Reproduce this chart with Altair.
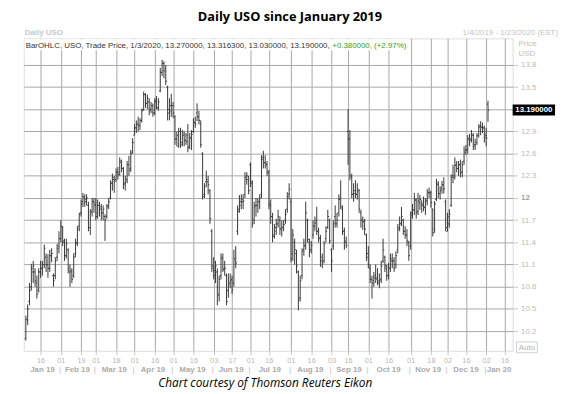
import json
import altair as alt
import pandas as pd

# ---------------- data ----------------
holidays = ["2019-01-21", "2019-02-18", "2019-04-19", "2019-05-27", "2019-07-04",
            "2019-09-02", "2019-11-28", "2019-12-25", "2020-01-01", "2020-01-20"]
all_days = pd.bdate_range("2019-01-04", "2020-01-23", freq="C", holidays=holidays)

opens = [
    # Jan
    10.10, 10.35, 10.60, 10.80, 11.00, 11.00, 10.85, 10.75, 11.00, 11.05, 11.10, 11.20, 11.10, 11.05, 11.22, 10.95, 10.95, 11.20, 11.35,
    # Feb
    11.45, 11.60, 11.40, 11.22, 11.30, 11.00, 11.00, 10.95, 11.25, 11.40, 11.62, 11.80, 11.95, 12.00, 11.98, 11.90, 11.60, 11.82, 11.95,
    # Mar
    11.90, 11.80, 11.90, 11.85, 11.80, 11.75, 11.75, 11.90, 12.00, 12.20, 12.25, 12.25, 12.35, 12.35, 12.48, 12.40, 12.20, 12.25, 12.45, 12.40, 12.62,
    # Apr
    12.85, 12.95, 13.00, 12.98, 13.05, 13.20, 13.40, 13.28, 13.30, 13.20, 13.25, 13.15, 13.32, 13.22, 13.45, 13.70, 13.82, 13.75, 13.50, 13.20, 13.25,
    # May
    13.25, 13.10, 12.80, 12.70, 12.90, 12.75, 12.85, 12.78, 12.85, 12.70, 12.80, 12.90, 13.02, 13.15, 13.10, 13.00, 12.60, 12.05, 12.22, 12.22, 12.10, 11.55,
    # Jun
    11.05, 10.95, 11.00, 10.70, 10.95, 11.20, 11.05, 10.95, 10.75, 10.85, 10.90, 10.85, 11.15, 11.55, 11.85, 11.95, 11.95, 12.05, 12.25, 12.25,
    # Jul
    12.45, 12.20, 11.70, 11.90, 11.90, 11.95, 12.05, 12.55, 12.48, 12.45, 12.35, 11.90, 11.75, 11.50, 11.60, 11.65, 11.70, 11.58, 11.60, 11.70, 11.85, 12.05,
    # Aug
    11.95, 11.25, 11.40, 11.25, 11.00, 10.65, 10.95, 11.30, 11.35, 11.70, 11.40, 11.30, 11.50, 11.62, 11.70, 11.55, 11.45, 11.15, 11.15, 11.45, 11.60, 11.70,
    # Sep
    11.30, 11.35, 11.75, 11.65, 11.80, 12.00, 11.85, 11.55, 11.40, 12.90, 12.80, 12.28, 12.05, 12.10, 12.05, 12.10, 11.80, 11.70, 11.68, 11.50,
    # Oct
    11.25, 11.05, 10.90, 10.88, 10.95, 10.90, 10.85, 10.90, 11.15, 11.20, 11.05, 10.95, 11.05, 11.15, 11.15, 11.10, 11.30, 11.60, 11.65, 11.70, 11.55, 11.50, 11.40,
    # Nov
    11.35, 11.80, 11.84, 11.97, 11.82, 11.94, 11.92, 11.92, 11.87, 11.97, 12.07, 12.07, 11.85, 11.58, 11.98, 12.18, 12.06, 12.13, 12.18, 11.95,
    # Dec
    11.55, 11.65, 11.90, 12.30, 12.30, 12.45, 12.40, 12.45, 12.35, 12.50, 12.65, 12.65, 12.80, 12.80, 12.85, 12.72, 12.75, 12.85, 12.98, 12.96, 12.95,
    # Jan 2020
    12.85, 13.27,
]
highs = [
    10.41, 10.56, 10.85, 11.11, 11.15, 11.05, 10.95, 11.05, 11.15, 11.15, 11.37, 11.25, 11.24, 11.30, 11.32, 10.98, 11.20, 11.38, 11.55,
    11.70, 11.62, 11.45, 11.45, 11.32, 11.10, 11.05, 11.25, 11.45, 11.62, 11.80, 11.98, 12.07, 12.05, 12.05, 11.95, 11.85, 12.00, 12.00,
    12.00, 11.98, 11.95, 11.92, 11.90, 11.78, 11.92, 12.00, 12.24, 12.33, 12.30, 12.40, 12.42, 12.55, 12.52, 12.42, 12.30, 12.50, 12.57, 12.65, 12.81,
    13.00, 13.05, 13.10, 13.08, 13.21, 13.44, 13.42, 13.40, 13.35, 13.30, 13.28, 13.35, 13.38, 13.35, 13.76, 13.87, 13.85, 13.80, 13.52, 13.35, 13.41,
    13.30, 13.12, 12.90, 12.95, 12.95, 12.92, 12.90, 12.88, 13.00, 12.88, 12.92, 13.08, 13.10, 13.28, 13.18, 13.05, 12.62, 12.20, 12.37, 12.30, 12.12, 11.58,
    11.20, 11.15, 11.05, 10.95, 11.25, 11.25, 11.15, 10.98, 10.98, 10.98, 10.95, 11.30, 11.35, 11.90, 12.04, 12.05, 12.05, 12.35, 12.35, 12.30,
    12.48, 12.24, 11.95, 12.00, 12.00, 12.05, 12.58, 12.64, 12.58, 12.50, 12.38, 11.98, 11.80, 11.65, 11.72, 11.84, 11.75, 11.70, 11.70, 11.85, 12.08, 12.20,
    12.00, 11.58, 11.45, 11.30, 11.02, 10.95, 11.32, 11.45, 11.95, 11.72, 11.45, 11.42, 11.70, 11.75, 11.88, 11.60, 11.50, 11.25, 11.42, 11.62, 11.84, 11.72,
    11.32, 11.70, 11.90, 11.80, 12.05, 12.24, 11.90, 11.60, 11.48, 13.20, 12.92, 12.33, 12.20, 12.24, 12.20, 12.12, 11.84, 11.75, 11.72, 11.52,
    11.35, 11.10, 10.95, 11.00, 11.10, 11.05, 10.98, 11.15, 11.45, 11.22, 11.10, 11.12, 11.25, 11.25, 11.20, 11.28, 11.65, 11.75, 11.88, 11.72, 11.62, 11.58, 11.42,
    11.82, 11.92, 12.07, 12.00, 12.07, 12.04, 11.97, 12.02, 12.00, 12.12, 12.14, 12.10, 11.86, 11.96, 12.26, 12.23, 12.16, 12.23, 12.28, 11.98,
    11.80, 11.85, 12.32, 12.45, 12.55, 12.50, 12.50, 12.52, 12.50, 12.70, 12.72, 12.85, 12.87, 12.92, 12.88, 12.80, 12.88, 13.00, 13.04, 13.02, 12.98,
    12.95, 13.3163,
]
lows = [
    10.07, 10.28, 10.55, 10.75, 10.85, 10.80, 10.64, 10.72, 10.92, 10.95, 11.05, 11.00, 10.92, 11.00, 11.13, 10.80, 10.90, 11.15, 11.25,
    11.40, 11.35, 11.15, 11.18, 10.98, 10.80, 10.85, 10.92, 11.20, 11.35, 11.55, 11.75, 11.88, 11.88, 11.90, 11.55, 11.50, 11.75, 11.80,
    11.70, 11.72, 11.75, 11.70, 11.70, 11.42, 11.72, 11.85, 11.98, 12.10, 12.07, 12.22, 12.25, 12.30, 12.35, 12.12, 12.10, 12.20, 12.30, 12.35, 12.60,
    12.85, 12.88, 12.90, 12.92, 13.02, 13.18, 13.22, 13.20, 13.12, 13.15, 13.10, 13.12, 13.20, 13.18, 13.43, 13.65, 13.62, 13.53, 13.05, 13.05, 13.10,
    13.08, 12.72, 12.70, 12.68, 12.68, 12.70, 12.70, 12.72, 12.62, 12.66, 12.65, 12.88, 12.95, 13.04, 13.00, 12.68, 11.98, 12.00, 12.15, 12.05, 11.65, 11.00,
    10.90, 10.85, 10.55, 10.60, 10.90, 11.00, 10.95, 10.55, 10.65, 10.78, 10.70, 10.80, 11.05, 11.50, 11.80, 11.85, 11.85, 12.00, 12.18, 12.05,
    12.15, 11.60, 11.65, 11.75, 11.80, 11.85, 12.00, 12.40, 12.40, 12.30, 11.85, 11.65, 11.40, 11.45, 11.50, 11.60, 11.50, 11.48, 11.55, 11.65, 11.80, 11.98,
    11.13, 11.15, 11.10, 10.98, 10.48, 10.60, 10.90, 11.22, 11.30, 11.40, 11.20, 11.25, 11.45, 11.55, 11.50, 11.40, 11.07, 11.05, 11.12, 11.40, 11.58, 11.38,
    11.00, 11.30, 11.60, 11.60, 11.75, 11.85, 11.50, 11.30, 11.32, 12.45, 12.24, 12.00, 11.95, 12.00, 11.98, 11.80, 11.60, 11.57, 11.50, 11.15,
    11.05, 10.85, 10.64, 10.80, 10.85, 10.82, 10.78, 10.85, 11.12, 11.00, 10.88, 10.90, 11.00, 11.05, 11.00, 11.05, 11.25, 11.55, 11.62, 11.50, 11.45, 11.35, 11.15,
    11.30, 11.72, 11.77, 11.72, 11.77, 11.84, 11.80, 11.82, 11.77, 11.90, 12.00, 11.87, 11.48, 11.53, 11.96, 12.00, 11.98, 12.06, 12.06, 11.55,
    11.55, 11.60, 11.88, 12.20, 12.25, 12.35, 12.30, 12.28, 12.28, 12.45, 12.58, 12.60, 12.70, 12.75, 12.65, 12.65, 12.72, 12.82, 12.85, 12.88, 12.75,
    12.70, 13.03,
]
closes = [
    10.36, 10.50, 10.75, 11.05, 11.08, 10.88, 10.70, 11.00, 11.05, 11.10, 11.32, 11.10, 11.05, 11.22, 11.25, 10.88, 11.15, 11.32, 11.45,
    11.62, 11.42, 11.22, 11.38, 11.05, 11.02, 10.90, 11.20, 11.38, 11.58, 11.78, 11.92, 12.02, 11.95, 12.00, 11.60, 11.80, 11.95, 11.92,
    11.75, 11.90, 11.88, 11.80, 11.85, 11.70, 11.88, 11.95, 12.20, 12.28, 12.22, 12.35, 12.32, 12.50, 12.40, 12.18, 12.22, 12.45, 12.38, 12.60, 12.75,
    12.95, 13.00, 12.98, 13.05, 13.18, 13.40, 13.28, 13.35, 13.18, 13.25, 13.15, 13.30, 13.22, 13.30, 13.70, 13.82, 13.72, 13.58, 13.15, 13.18, 13.25,
    13.15, 12.80, 12.85, 12.90, 12.72, 12.88, 12.78, 12.76, 12.68, 12.82, 12.86, 13.02, 13.00, 13.10, 13.05, 12.72, 12.02, 12.15, 12.25, 12.18, 11.72, 11.08,
    11.02, 11.08, 10.68, 10.90, 11.18, 11.03, 11.05, 10.60, 10.82, 10.88, 10.76, 11.18, 11.12, 11.82, 11.90, 11.98, 11.96, 12.28, 12.30, 12.10,
    12.22, 11.65, 11.88, 11.90, 11.95, 12.00, 12.52, 12.48, 12.47, 12.35, 11.92, 11.75, 11.48, 11.55, 11.65, 11.75, 11.58, 11.60, 11.64, 11.78, 12.02, 12.12,
    11.18, 11.50, 11.30, 11.08, 10.62, 10.88, 11.28, 11.36, 11.80, 11.44, 11.28, 11.36, 11.62, 11.66, 11.55, 11.46, 11.20, 11.12, 11.38, 11.55, 11.75, 11.42,
    11.15, 11.65, 11.66, 11.70, 11.98, 11.88, 11.55, 11.42, 11.36, 12.80, 12.30, 12.05, 12.06, 12.05, 12.12, 11.85, 11.70, 11.68, 11.58, 11.20,
    11.10, 10.90, 10.85, 10.92, 10.92, 10.88, 10.88, 11.08, 11.30, 11.08, 10.95, 11.05, 11.18, 11.15, 11.05, 11.22, 11.58, 11.66, 11.75, 11.55, 11.50, 11.42, 11.22,
    11.77, 11.84, 11.98, 11.80, 11.96, 11.98, 11.90, 11.88, 11.95, 12.08, 12.07, 11.94, 11.53, 11.92, 12.20, 12.06, 12.10, 12.18, 12.12, 11.60,
    11.75, 11.78, 12.28, 12.28, 12.44, 12.40, 12.45, 12.35, 12.45, 12.62, 12.65, 12.80, 12.78, 12.85, 12.70, 12.72, 12.84, 12.96, 12.96, 12.95, 12.82,
    12.81, 13.19,
]

tick_dates = ["2019-01-16", "2019-02-01", "2019-02-19", "2019-03-01", "2019-03-18", "2019-04-01",
              "2019-04-16", "2019-05-01", "2019-05-16", "2019-06-03", "2019-06-17", "2019-07-01",
              "2019-07-16", "2019-08-01", "2019-08-16", "2019-09-03", "2019-09-16", "2019-10-01",
              "2019-10-16", "2019-11-01", "2019-11-18", "2019-12-02", "2019-12-16", "2020-01-02",
              "2020-01-16"]
tick_labels = ["16", "01", "19", "01", "18", "01", "16", "01", "16", "03", "17", "01", "16",
               "01", "16", "03", "16", "01", "16", "01", "18", "02", "16", "02", "16"]
month_names = ["Jan 19", "Feb 19", "Mar 19", "Apr 19", "May 19", "Jun 19", "Jul 19",
               "Aug 19", "Sep 19", "Oct 19", "Nov 19", "Dec 19", "Jan 20"]
y_ticks = [10.2, 10.5, 10.8, 11.1, 11.4, 11.7, 12.0, 12.3, 12.6, 12.9, 13.2, 13.5, 13.8]

title_text = "Daily USO since January 2019"
caption_text = "Chart courtesy of Thomson Reuters Eikon"
info_text = "BarOHLC, USO, Trade Price,  1/3/2020,  13.270000,  13.316300,  13.030000,  13.190000, "
change_text = "+0.380000,  (+2.97%)"
# ---------------------------------------------------------------

n = len(closes)
df = pd.DataFrame({
    "i": list(range(n)),
    "date": all_days[:n].strftime("%Y-%m-%d"),
    "open": opens, "high": highs, "low": lows, "close": closes,
})

day_pos = {d.strftime("%Y-%m-%d"): k for k, d in enumerate(all_days)}
tick_idx = [day_pos[d] for d in tick_dates]

months = pd.Series(range(len(all_days)), index=all_days)
mgroups = months.groupby([all_days.year, all_days.month])
month_df = pd.DataFrame({
    "pos": [float(g.mean()) for _, g in mgroups],
    "name": month_names,
})
sep_df = pd.DataFrame({"pos": [float(g.min()) - 0.5 for _, g in mgroups][1:], "t": "|"})

W, H = 496, 317
xs = alt.Scale(domain=[-1.124, 264.4], nice=False, zero=False)
ys = alt.Scale(domain=[9.933, 14.16], nice=False, zero=False)
LF = "Liberation Sans"
last_value = closes[-1]

x_axis = alt.Axis(values=tick_idx,
                  labelExpr=f"{json.dumps(tick_labels)}[indexof({json.dumps(tick_idx)}, datum.value)]",
                  grid=True, gridColor="#a8a8a8", gridWidth=1, domain=False,
                  ticks=True, tickSize=4, tickColor="#c8c8c8", labelColor="#b8b8b8",
                  labelFontSize=7.5, labelFont=LF, labelPadding=2, title=None,
                  labelFlush=False, labelOverlap=False)
y_axis = alt.Axis(orient="right", values=y_ticks,
                  labelExpr=f"abs(datum.value - {last_value}) < 0.1 ? '' : format(datum.value, '.1~f')",
                  grid=True, gridColor="#a8a8a8", gridWidth=1, domain=False,
                  ticks=True, tickSize=5, tickColor="#c8c8c8",
                  labelColor={"condition": {"test": "datum.value == 12", "value": "#a0a0a0"}, "value": "#bcbcbc"},
                  labelFontWeight={"condition": {"test": "datum.value == 12", "value": "bold"}, "value": "normal"},
                  labelFontSize=8, labelFont=LF, labelPadding=3, title=None,
                  labelFlush=False, labelOverlap=False)

BAR = "#383838"
base = alt.Chart(df)
hl = base.mark_rule(color=BAR, strokeWidth=1).encode(
    x=alt.X("i:Q", scale=xs, axis=x_axis),
    y=alt.Y("low:Q", scale=ys, axis=y_axis),
    y2="high:Q",
)
open_tick = base.transform_calculate(io="datum.i - 0.65").mark_rule(color=BAR, strokeWidth=1).encode(
    x=alt.X("io:Q", scale=xs, axis=x_axis), x2="i:Q",
    y=alt.Y("open:Q", scale=ys, axis=y_axis),
)
close_tick = base.transform_calculate(ic="datum.i + 0.65").mark_rule(color=BAR, strokeWidth=1).encode(
    x=alt.X("i:Q", scale=xs, axis=x_axis), x2="ic:Q",
    y=alt.Y("close:Q", scale=ys, axis=y_axis),
)

def label(text, x, y, **kw):
    return alt.Chart(pd.DataFrame({"t": [text]})).mark_text(**kw).encode(
        text="t:N", x=alt.value(x), y=alt.value(y))

info_bg = alt.Chart(pd.DataFrame({"t": [0]})).mark_rect(fill="white").encode(
    x=alt.value(1), x2=alt.value(390), y=alt.value(1), y2=alt.value(12))

last = pd.DataFrame({"v": [last_value], "lab": [f"{last_value:.6f}"]})
last_bg = alt.Chart(last).transform_calculate(
    lo="datum.v - 0.075", hi="datum.v + 0.075").mark_rect(fill="black").encode(
    x=alt.value(W), x2=alt.value(W + 43),
    y=alt.Y("lo:Q", scale=ys, axis=y_axis), y2="hi:Q")
last_txt = alt.Chart(last).mark_text(color="white", font=LF, fontSize=8, fontWeight="bold",
                                     align="center", baseline="middle").encode(
    text="lab:N", x=alt.value(W + 21.5), y=alt.Y("v:Q", scale=ys, axis=y_axis))

auto_box = alt.Chart(pd.DataFrame({"t": [0]})).mark_rect(fill="white", stroke="#cfcfcf", strokeWidth=1).encode(
    x=alt.value(W + 4), x2=alt.value(W + 25), y=alt.value(H - 9), y2=alt.value(H + 2))

month_txt = alt.Chart(month_df).mark_text(font=LF, fontSize=8, fontWeight="bold", color="#ababab",
                                          align="center", baseline="alphabetic").encode(
    x=alt.X("pos:Q", scale=xs, axis=x_axis), y=alt.value(H + 21), text="name:N")
sep_txt = alt.Chart(sep_df).mark_text(font=LF, fontSize=8, color="#bcbcbc",
                                      align="center", baseline="alphabetic").encode(
    x=alt.X("pos:Q", scale=xs, axis=x_axis), y=alt.value(H + 21), text="t:N")

layers = [
    hl, open_tick, close_tick,
    info_bg,
    label(info_text, 2, 10, font=LF, fontSize=8, color="#333333", align="left", baseline="alphabetic"),
    label(change_text, 313, 10, font=LF, fontSize=8, color="#2aa02a", align="left", baseline="alphabetic"),
    label("Daily USO", 1, -3, font=LF, fontSize=8, fontWeight="bold", color="#c8c8c8", align="left", baseline="alphabetic"),
    label("1/4/2019 - 1/23/2020 (EST)", 542, -3, font=LF, fontSize=8, color="#c4c4c4", align="right", baseline="alphabetic"),
    label("Price", 502, 8, font=LF, fontSize=8, color="#c0c0c0", align="left", baseline="alphabetic"),
    label("USD", 502, 18, font=LF, fontSize=8, color="#c0c0c0", align="left", baseline="alphabetic"),
    last_bg, last_txt,
    auto_box,
    label("Auto", W + 14.5, H - 0.5, font=LF, fontSize=8, color="#b4b4b4", align="center", baseline="alphabetic"),
    month_txt, sep_txt,
    label(title_text, 270, -18, font="Open Sans", fontSize=13, fontWeight="bold", color="black", align="center", baseline="alphabetic"),
    label(caption_text, 245, 354, font="Open Sans", fontSize=12, fontStyle="italic", color="black", align="center", baseline="alphabetic"),
]

chart = alt.layer(*layers).properties(
    width=W, height=H,
    padding={"left": 16, "top": 28, "right": 47, "bottom": 41},
    autosize=alt.AutoSizeParams(type="none"),
).configure_view(stroke="#808080", strokeWidth=1).configure(background="white")

chart.save("out.html", embed_options={"renderer": "svg", "actions": False})
